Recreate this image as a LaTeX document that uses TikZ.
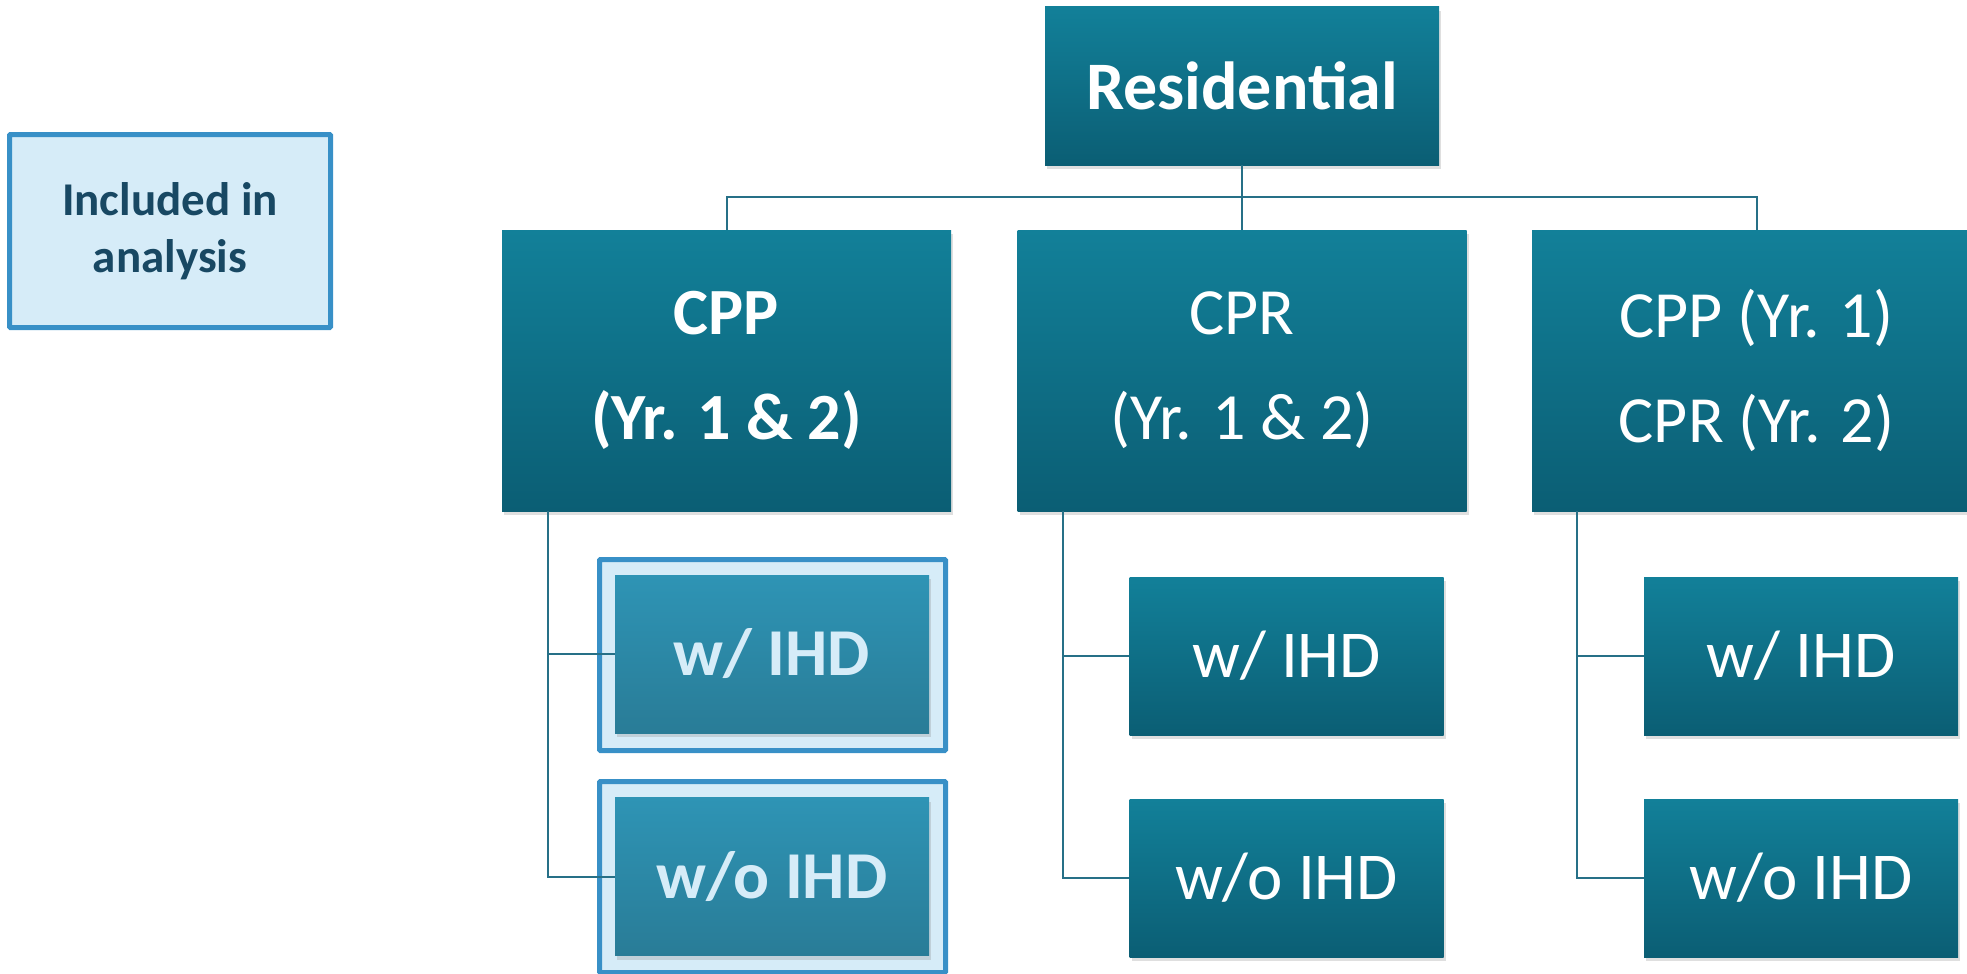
\documentclass[tikz,border=0pt]{standalone}
\usepackage{fontspec}
\setmainfont{Carlito}
\usetikzlibrary{shadows}
\definecolor{boxtop}{RGB}{18,128,153}
\definecolor{boxbot}{RGB}{11,94,116}
\definecolor{hltop}{RGB}{46,148,181}
\definecolor{hlbot}{RGB}{41,124,151}
\definecolor{hlfill}{RGB}{214,236,248}
\definecolor{hlborder}{RGB}{56,144,199}
\definecolor{legtext}{RGB}{24,72,99}
\definecolor{linec}{RGB}{38,112,135}
\tikzset{
  tealbox/.style={rectangle, inner sep=0pt, top color=boxtop, bottom color=boxbot,
    text=white, align=center,
    drop shadow={shadow xshift=2pt, shadow yshift=-4pt, opacity=0.25}},
  hlbox/.style={rectangle, inner sep=0pt, top color=hltop, bottom color=hlbot,
    text=hlfill, align=center, font=\fontsize{67}{80}\selectfont\bfseries,
    minimum width=314pt, minimum height=158pt,
    drop shadow={shadow xshift=2pt, shadow yshift=-4pt, opacity=0.25}},
  hlframe/.style={rectangle, inner sep=0pt, draw=hlborder, fill=hlfill, line width=5pt,
    rounded corners=1pt, minimum width=346pt, minimum height=191pt},
  topbox/.style={tealbox, minimum width=449pt, minimum height=281pt},
  leafbox/.style={tealbox, minimum width=314pt, minimum height=158pt,
    font=\fontsize{67}{80}\selectfont},
  conn/.style={draw=linec, line width=2pt},
}
\begin{document}
\begin{tikzpicture}[x=1pt, y=-1pt]
\useasboundingbox (0,0) rectangle (1967,974);
% legend
\node[rectangle, inner sep=0pt, draw=hlborder, fill=hlfill, line width=5pt, rounded corners=1pt,
  minimum width=321pt, minimum height=193pt, text=legtext, align=center,
  font=\fontsize{47}{57}\selectfont\bfseries] (legend) at (170,231) {Included in\\analysis};
% root
\node[tealbox, minimum width=394pt, minimum height=158pt,
  font=\fontsize{68}{80}\selectfont\bfseries] (res) at (1242,86) {Residential};
% level 2
\node[topbox, font=\fontsize{66}{105}\selectfont\bfseries] (cpp) at (726.5,370.5) {CPP\\(Yr. 1 \& 2)};
\node[topbox, font=\fontsize{66}{105}\selectfont] (cpr) at (1242,370.5) {CPR\\(Yr. 1 \& 2)};
\node[topbox, font=\fontsize{66}{105}\selectfont] (mix) at (1756.5,370.5) {CPP (Yr. 1)\\CPR (Yr. 2)};
% CPP leaves (highlighted)
\node[hlframe] (cppwf) at (772.5,655) {};
\node[hlframe] (cppwof) at (772.5,877) {};
\node[hlbox] (cppw) at (772,654) {w/ IHD};
\node[hlbox] (cppwo) at (772,876.5) {w/o IHD};
% CPR leaves
\node[leafbox] (cprw) at (1286.5,656) {w/ IHD};
\node[leafbox] (cprwo) at (1286.5,878) {w/o IHD};
% mixed leaves
\node[leafbox] (mixw) at (1801,656) {w/ IHD};
\node[leafbox] (mixwo) at (1801,878) {w/o IHD};
% connectors
\draw[conn] (res.south) -- ++(0,32) -| (cpp.north);
\draw[conn] (res.south) -- (cpr.north);
\draw[conn] (res.south) -- ++(0,32) -| (mix.north);
\draw[conn] ([xshift=-178.5pt]cpp.south) |- (cppw.west);
\draw[conn] ([xshift=-178.5pt]cpp.south) |- (cppwo.west);
\draw[conn] ([xshift=-179pt]cpr.south) |- (cprw.west);
\draw[conn] ([xshift=-179pt]cpr.south) |- (cprwo.west);
\draw[conn] ([xshift=-179.5pt]mix.south) |- (mixw.west);
\draw[conn] ([xshift=-179.5pt]mix.south) |- (mixwo.west);
\end{tikzpicture}
\end{document}
